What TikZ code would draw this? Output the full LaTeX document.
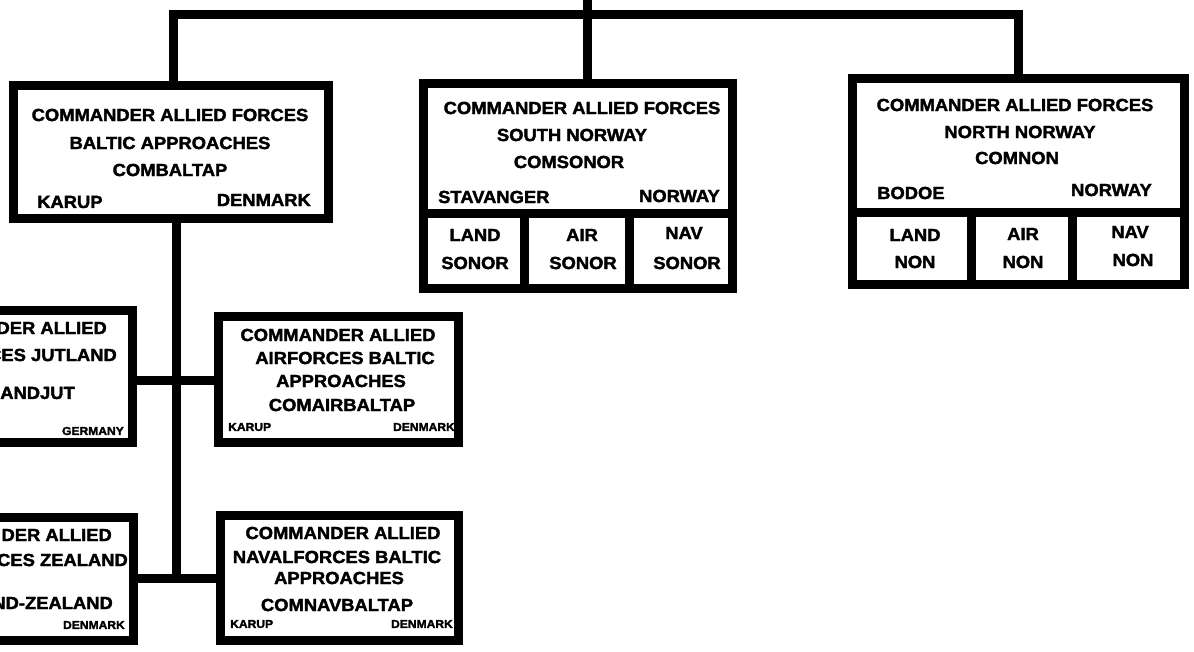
\documentclass[tikz,border=0pt]{standalone}
\usepackage{fontspec}
\newfontfamily\lblfam{Liberation Sans Bold}[FakeStretch=1.05, FakeBold=2]
\usetikzlibrary{fit}
\newcommand\lblfont{\lblfam\fontsize{17.5}{20}\selectfont}
\newcommand\smlfont{\lblfam\fontsize{11.5}{13}\selectfont}
\begin{document}
\begin{tikzpicture}[x=1pt,y=-1pt,
  box/.style={draw=black, line width=9pt, inner sep=0pt, fill=white},
  conn/.style={draw=black, line width=9pt, line join=miter},
  lbl/.style={inner sep=0pt, font=\lblfont},
  sml/.style={inner sep=0pt, font=\smlfont}]
\useasboundingbox (0,0) rectangle (1194,651);
\fill[white] (0,0) rectangle (1194,651);
\clip (0,0) rectangle (1194,651);

% boxes
\node[box, fit={(13,85) (328,218)}] (combaltap) {};
\node[box, fit={(423,83) (732,213)}] (comsonor) {};
\node[box, fit={(423,213) (524,288)}] (landsonor) {};
\node[box, fit={(524,213) (629,288)}] (airsonor) {};
\node[box, fit={(629,213) (732,288)}] (navsonor) {};
\node[box, fit={(852,78) (1184,212)}] (comnon) {};
\node[box, fit={(852,212) (971,284)}] (landnon) {};
\node[box, fit={(971,212) (1072,284)}] (airnon) {};
\node[box, fit={(1072,212) (1184,284)}] (navnon) {};
\node[box, fit={(-200,310) (132,442)}] (comlandjut) {};
\node[box, fit={(218,316) (458,442)}] (comairbaltap) {};
\node[box, fit={(-200,517) (133,640)}] (comlandzealand) {};
\node[box, fit={(220,515) (458,640)}] (comnavbaltap) {};

% connectors
\coordinate (top) at (587,0);
\coordinate (bus) at (587,14);
\coordinate (spineA) at (176,380);
\coordinate (spineB) at (176,578);
\draw[conn] (top) -- (top |- comsonor.north);
\draw[conn] (combaltap.north -| 173,0) |- (bus) -| (comnon.north);
\draw[conn] (combaltap.south -| spineA) -- (spineB);
\draw[conn] (comlandjut.east |- spineA) -- (comairbaltap.west |- spineA);
\draw[conn] (comlandzealand.east |- spineB) -- (comnavbaltap.west |- spineB);

% COMBALTAP
\node[lbl] (cb1) at (170,115) {COMMANDER ALLIED FORCES};
\node[lbl] (cb2) at (170,143) {BALTIC APPROACHES};
\node[lbl] (cb3) at (170,170) {COMBALTAP};
\node[lbl, anchor=west] (cb4) at (37,202) {KARUP};
\node[lbl, anchor=east] (cb5) at (311,200) {DENMARK};

% COMSONOR
\node[lbl] (cs1) at (582,108) {COMMANDER ALLIED FORCES};
\node[lbl] (cs2) at (572,135) {SOUTH NORWAY};
\node[lbl] (cs3) at (569,162) {COMSONOR};
\node[lbl, anchor=west] (cs4) at (438,197) {STAVANGER};
\node[lbl, anchor=east] (cs5) at (720,196) {NORWAY};
\node[lbl] (ls1) at (475,235) {LAND};
\node[lbl] (ls2) at (475,263) {SONOR};
\node[lbl] (as1) at (582,235) {AIR};
\node[lbl] (as2) at (583,263) {SONOR};
\node[lbl] (ns1) at (684,233) {NAV};
\node[lbl] (ns2) at (687,263) {SONOR};

% COMNON
\node[lbl] (cn1) at (1015,105) {COMMANDER ALLIED FORCES};
\node[lbl] (cn2) at (1020,132) {NORTH NORWAY};
\node[lbl] (cn3) at (1017,158) {COMNON};
\node[lbl, anchor=west] (cn4) at (877,193) {BODOE};
\node[lbl, anchor=east] (cn5) at (1152,190) {NORWAY};
\node[lbl] (ln1) at (915,235) {LAND};
\node[lbl] (ln2) at (915,262) {NON};
\node[lbl] (an1) at (1023,234) {AIR};
\node[lbl] (an2) at (1023,262) {NON};
\node[lbl] (nn1) at (1130,232) {NAV};
\node[lbl] (nn2) at (1133,260) {NON};

% COMLANDJUT (cut)
\node[lbl, anchor=east] (lj1) at (107,328) {DER ALLIED};
\node[lbl, anchor=east] (lj2) at (117,355) {CES JUTLAND};
\node[lbl, anchor=east] (lj3) at (75,393) {LANDJUT};
\node[sml, anchor=east] (lj4) at (124,431) {GERMANY};

% COMAIRBALTAP
\node[lbl] (ab1) at (338,335) {COMMANDER ALLIED};
\node[lbl] (ab2) at (345,358) {AIRFORCES BALTIC};
\node[lbl] (ab3) at (341,381) {APPROACHES};
\node[lbl] (ab4) at (342,405) {COMAIRBALTAP};
\node[sml, anchor=west] (ab5) at (228,427) {KARUP};
\node[sml, anchor=east] (ab6) at (455,427) {DENMARK};

% COMLANDZEALAND (cut)
\node[lbl, anchor=east] (lz1) at (112,535) {DER ALLIED};
\node[lbl, anchor=east] (lz2) at (128,560) {CES ZEALAND};
\node[lbl, anchor=east] (lz3) at (113,603) {ND-ZEALAND};
\node[sml, anchor=east] (lz4) at (125,625) {DENMARK};

% COMNAVBALTAP
\node[lbl] (nb1) at (343,533) {COMMANDER ALLIED};
\node[lbl] (nb2) at (337,557) {NAVALFORCES BALTIC};
\node[lbl] (nb3) at (339,578) {APPROACHES};
\node[lbl] (nb4) at (337,605) {COMNAVBALTAP};
\node[sml, anchor=west] (nb5) at (230,624) {KARUP};
\node[sml, anchor=east] (nb6) at (453,624) {DENMARK};
\end{tikzpicture}
\end{document}
